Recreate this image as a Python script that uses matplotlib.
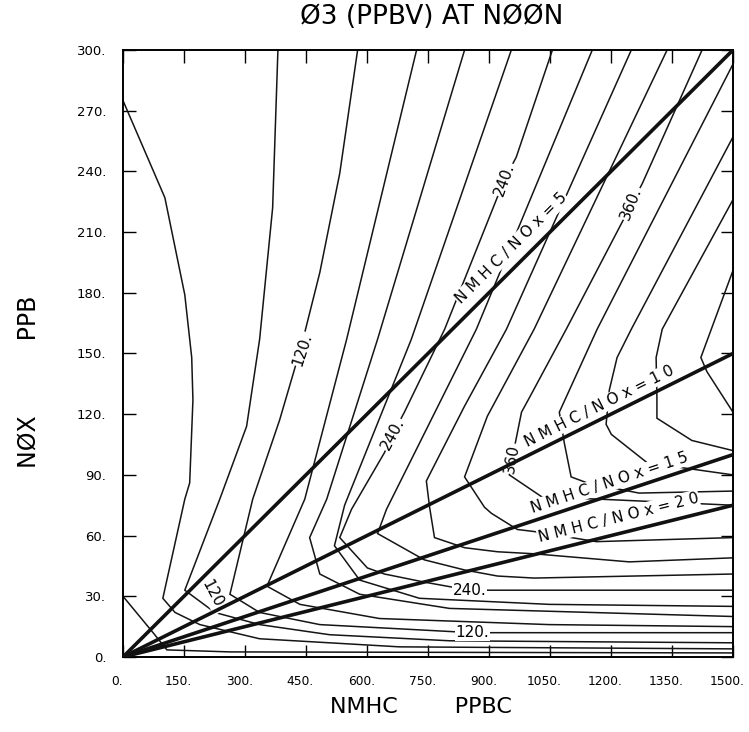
import numpy as np
import matplotlib.pyplot as plt
import matplotlib.transforms as mtransforms

# NMHC/NOx ratio lines
ratios = [5, 10, 15, 20]
ratio_label_pos = [(955, 202), (1172, 124), (1196, 86), (1218, 69)]

# O3 isopleths (ppbv) as (NMHC ppbC, NOx ppb)
iso_nmhc = [
    [0, 103, 152, 169, 172, 164, 152, 98, 128, 189, 336, 680, 1500],          # 60
    [0, 74, 108, 263, 1500],                                                 # near origin
    [381, 368, 336, 304, 238, 152, 226, 336, 508, 803, 1500],                # 90
    [577, 533, 484, 439, 385, 319, 263, 336, 484, 859, 1500],                # 120
    [722, 550, 447, 354, 435, 631, 1048, 1500],                              # 150
    [840, 626, 501, 459, 484, 582, 803, 1500],                               # 180
    [955, 709, 545, 520, 582, 729, 1048, 1500],                              # 210
    [1056, 967, 938, 791, 692, 663, 643, 562, 533, 601, 643, 741, 852, 1500],  # 240
    [1154, 869, 648, 626, 741, 840, 921, 1011, 1500],                        # 270
    [1250, 943, 840, 746, 754, 766, 840, 921, 1011, 1245, 1500],             # 300
    [1338, 1011, 896, 840, 889, 906, 970, 1011, 1164, 1500],                 # 330
    [1424, 1277, 1090, 999, 980, 970, 957, 950, 1031, 1171, 1500],           # 360
    [1500, 1166, 1073, 1085, 1102, 1142, 1269, 1500],                        # 390
    [1500, 1250, 1215, 1196, 1188, 1201, 1289, 1500],                        # 420
    [1500, 1326, 1311, 1313, 1313, 1399, 1500],                              # 450
    [1500, 1421, 1436, 1500],                                                # 480
]
iso_nox = [
    [275, 227, 179, 148, 127, 86, 78, 29, 22, 16, 9, 5, 4],
    [30, 12, 3.5, 2.5, 2],
    [300, 222, 157, 114, 78, 33, 22, 16, 11, 8, 7],
    [300, 239, 190, 154, 117, 78, 31, 22, 16, 12, 12],
    [300, 157, 78, 35, 26, 19, 16, 15],
    [300, 157, 78, 59, 41, 31, 24, 20],
    [300, 157, 75, 55, 38, 29, 26, 25],
    [300, 247, 236, 162, 121, 110, 101, 73, 59, 44, 41, 37, 33, 33],
    [300, 162, 73, 61, 48, 43, 40, 39, 41],
    [300, 162, 124, 87, 74, 59, 54, 52, 51, 47, 49],
    [300, 162, 119, 89, 74, 71, 63, 62, 57, 59],
    [300, 234, 162, 128, 121, 111, 98, 90, 79, 78, 75],
    [293, 162, 121, 106, 89, 86, 81, 82],
    [257, 162, 148, 132, 115, 110, 96, 90],
    [226, 162, 148, 128, 118, 107, 102],
    [191, 148, 141, 121],
]

# contour labels: text, NMHC, NOx, rotation
iso_labels = [
    ("120.", 442, 152, 72),
    ("240.", 938, 236, 70),
    ("360.", 1250, 224, 68),
    ("240.", 663, 110, 62),
    ("360", 957, 98, 80),
    ("120.", 221, 30, -62),
    ("240.", 852, 33, 0),
    ("120.", 859, 12, 0),
]

xticks = np.arange(0, 1501, 150)
yticks = np.arange(0, 301, 30)

fig = plt.figure(figsize=(7.49, 7.32), dpi=100)
ax = fig.add_axes([0.1642, 0.1025, 0.8144, 0.8292])

for xs, ys in zip(iso_nmhc, iso_nox):
    ax.plot(xs, ys, color="#151515", lw=1.1, solid_joinstyle="miter")

for r in ratios:
    ax.plot([0, 1500], [0, 1500 / r], color="#111111", lw=2.6, zorder=4)

for (r, (lx, ly)) in zip(ratios, ratio_label_pos):
    ang = np.degrees(np.arctan((1500 / r / 300 * 607) / 610))
    txt = " ".join("NMHC/NOx=" + str(r))
    ax.text(lx, ly, txt, rotation=ang, rotation_mode="anchor",
            ha="center", va="center", fontsize=11, zorder=5,
            bbox=dict(facecolor="white", edgecolor="none", pad=0.5))

for t, lx, ly, rot in iso_labels:
    ax.text(lx, ly, t, rotation=rot, rotation_mode="anchor", ha="center",
            va="center", fontsize=11, zorder=3,
            bbox=dict(facecolor="white", edgecolor="none", pad=0.5))

ax.set_xlim(0, 1500)
ax.set_ylim(0, 300)
ax.set_xticks(xticks)
ax.set_xticklabels([f"{v}." for v in xticks], fontsize=8.8)
ax.set_yticks(yticks)
ax.set_yticklabels([f"{v}." for v in yticks], fontsize=9.5)
ax.tick_params(direction="in", length=9, width=1, top=True, right=True)
ax.tick_params(axis="x", pad=13)
ax.tick_params(axis="y", pad=12)
for s in ax.spines.values():
    s.set_linewidth(1.4)

# tick labels sit a little left of their ticks in the original
off = mtransforms.ScaledTranslation(-4 / 72, 0, fig.dpi_scale_trans)
for lab in ax.get_xticklabels():
    lab.set_transform(lab.get_transform() + off)

fig.text(0.576, 0.977, "Ø3 (PPBV) AT NØØN", ha="center", va="center", fontsize=19)
fig.text(0.562, 0.034, "NMHC        PPBC", ha="center", va="center", fontsize=16)
fig.text(0.038, 0.478, "NØX          PPB", ha="center", va="center", fontsize=17, rotation=90)

fig.savefig("out.png", dpi=100)
